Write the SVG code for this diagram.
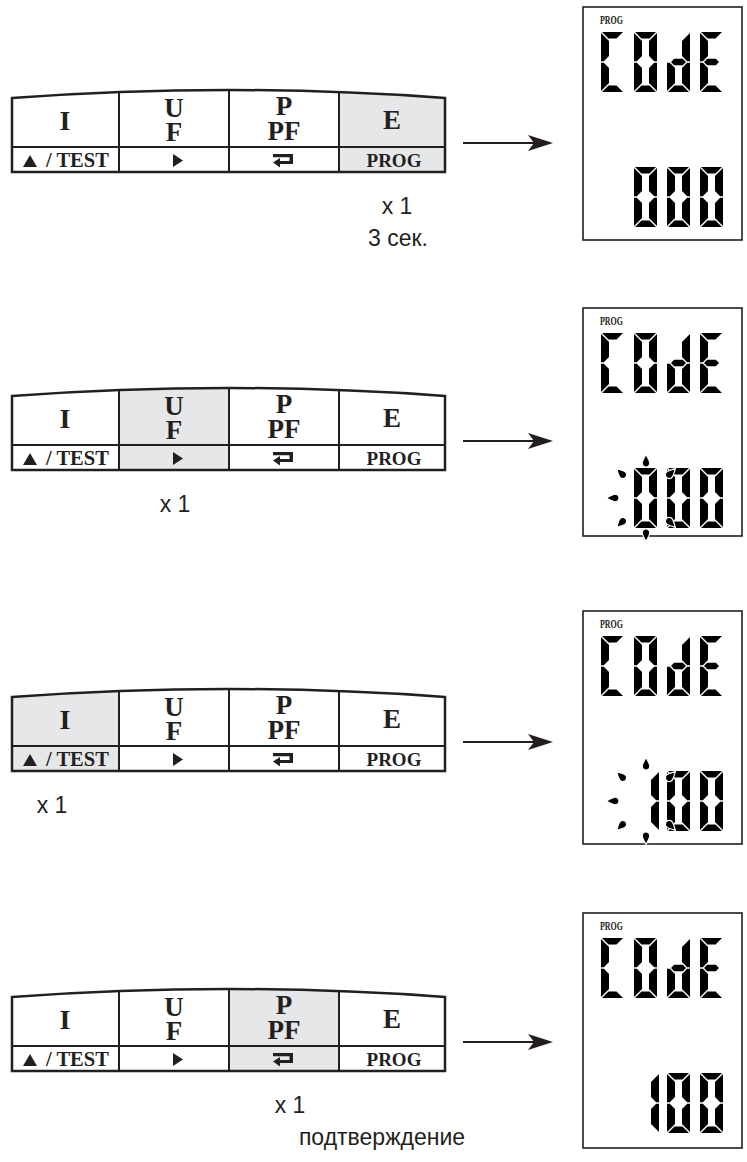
<svg xmlns="http://www.w3.org/2000/svg" xmlns:xlink="http://www.w3.org/1999/xlink" width="747" height="1162" viewBox="0 0 747 1162">
<style>
.ol{fill:none;stroke:#231f20;stroke-width:2.5}
.ln{fill:none;stroke:#231f20;stroke-width:2}
.ink{fill:#231f20}
.hl{fill:#e6e7e8}
.key{font-family:"Liberation Serif",serif;font-weight:bold;fill:#231f20;text-anchor:middle}
.big{font-size:27px}
.sm{font-size:19px}
.note{font-family:"Liberation Sans",Arial,sans-serif;font-size:23px;fill:#231f20;text-anchor:middle}
.disp{fill:#fff;stroke:#231f20;stroke-width:1.6}
.dl{font-family:"Liberation Serif",serif;font-weight:bold;font-size:11.5px;fill:#231f20}
.seg{fill:#000}
.ray{fill:#000;stroke:#fff;stroke-width:1.2}
</style>
<defs>
<clipPath id="pc" clipPathUnits="userSpaceOnUse"><path d="M12,98 Q228.5,82 445,98 L445,172 L12,172 Z"/></clipPath>
<marker id="ah" markerUnits="userSpaceOnUse" markerWidth="26" markerHeight="16" refX="12" refY="8" orient="auto"><path d="M0,0 L25,8 L0,16 L6,8 Z" fill="#231f20"/></marker>
<polygon id="sa" points="1,0 22,0 15.5,6.5 7.5,6.5"/>
<polygon id="sb" points="23,1 23,29.2 20.2,29.2 15,24 15,9"/>
<polygon id="sc" points="23,59 23,30.8 20.2,30.8 15,36 15,51"/>
<polygon id="sd" points="1,60 22,60 15.5,53.5 7.5,53.5"/>
<polygon id="se" points="0,59 0,30.8 2.8,30.8 8,36 8,51"/>
<polygon id="sf" points="0,1 0,29.2 2.8,29.2 8,24 8,9"/>
<polygon id="sg" points="4,30 7.2,26.8 15.8,26.8 19,30 15.8,33.2 7.2,33.2"/>
<g id="gC" class="seg"><use href="#sa"/><use href="#sd"/><use href="#se"/><use href="#sf"/></g>
<g id="g0" class="seg"><use href="#sa"/><use href="#sb"/><use href="#sc"/><use href="#sd"/><use href="#se"/><use href="#sf"/></g>
<g id="gd" class="seg"><use href="#sb"/><use href="#sc"/><use href="#sd"/><use href="#se"/><use href="#sg"/></g>
<g id="gE" class="seg"><use href="#sa"/><use href="#sd"/><use href="#se"/><use href="#sf"/><use href="#sg"/></g>
<g id="g1" class="seg"><use href="#sb"/><use href="#sc"/></g>
<path id="ray" d="M0,-12.5 C2,-9 3.8,-5.5 3.8,-3.8 A3.8,3.8 0 0 1 -3.8,-3.8 C-3.8,-5.5 -2,-9 0,-12.5 Z"/>
<g id="rays">
<use class="ray" href="#ray" transform="translate(0,-31)"/>
<use class="ray" href="#ray" transform="rotate(180) translate(0,-31)"/>
<use class="ray" href="#ray" transform="rotate(-90) translate(0,-27)"/>
<use class="ray" href="#ray" transform="rotate(-45) translate(0,-29)"/>
<use class="ray" href="#ray" transform="rotate(-135) translate(0,-29)"/>
<use class="ray" href="#ray" transform="rotate(45) translate(0,-29)"/>
<use class="ray" href="#ray" transform="rotate(135) translate(0,-29)"/>
</g>
<g id="code">
<text class="dl" x="600" y="17" textLength="23" lengthAdjust="spacingAndGlyphs">PROG</text>
<use href="#gC" x="601" y="25"/><use href="#g0" x="634" y="25"/><use href="#gd" x="667" y="25"/><use href="#gE" x="700" y="25"/>
</g>
<g id="panel">
<path class="ol" d="M12,98 Q228.5,82 445,98 L445,172 L12,172 Z"/>
<line class="ln" x1="12" y1="147" x2="445" y2="147"/>
<line class="ln" x1="119" y1="92" x2="119" y2="172"/>
<line class="ln" x1="229" y1="90" x2="229" y2="172"/>
<line class="ln" x1="339" y1="92" x2="339" y2="172"/>
<text class="key big" x="65" y="130" style="font-size:28px">I</text>
<text class="key big" x="174" y="117">U</text>
<text class="key big" x="174" y="141">F</text>
<text class="key big" x="284" y="115">P</text>
<text class="key big" x="284" y="140">PF</text>
<text class="key big" x="392" y="129">E</text>
<polygon class="ink" points="23,167 37,167 30,155"/>
<text class="key sm" x="46" y="167" style="text-anchor:start;font-size:20.5px">/ TEST</text>
<polygon class="ink" points="173,154 173,167 183,160.5"/>
<path class="ink" d="M273,154 H293 V164 H280 V161 H289.5 V157.3 H273 Z"/>
<polygon class="ink" points="273,162.5 280,158 280,167.5"/>
<text class="key sm" x="394" y="167">PROG</text>
</g>
</defs>

<g id="node-keys-1">
<rect class="hl" x="339" y="80" width="106" height="92" clip-path="url(#pc)"/>
<use href="#panel"/>
<text class="note" x="397" y="214">x 1</text>
<text class="note" x="398" y="246">3 сек.</text>
</g>

<g id="node-keys-2" transform="translate(0,298)">
<rect class="hl" x="119" y="80" width="110" height="92" clip-path="url(#pc)"/>
<use href="#panel"/>
<text class="note" x="175" y="214">x 1</text>
</g>

<g id="node-keys-3" transform="translate(0,599)">
<rect class="hl" x="12" y="80" width="107" height="92" clip-path="url(#pc)"/>
<use href="#panel"/>
<text class="note" x="52" y="214">x 1</text>
</g>

<g id="node-keys-4" transform="translate(0,899)">
<rect class="hl" x="229" y="80" width="110" height="92" clip-path="url(#pc)"/>
<use href="#panel"/>
<text class="note" x="290" y="214">x 1</text>
<text class="note" x="382" y="246">подтверждение</text>
</g>

<g id="node-display-1" transform="translate(0,7)">
<rect class="disp" x="583" y="0" width="159" height="233"/>
<use href="#code"/>
<use href="#g0" x="634" y="160"/><use href="#g0" x="667" y="160"/><use href="#g0" x="700" y="160"/>
</g>

<g id="node-display-2" transform="translate(0,308)">
<rect class="disp" x="583" y="0" width="159" height="228"/>
<use href="#code"/>
<use href="#g0" x="634" y="160"/><use href="#g0" x="667" y="160"/><use href="#g0" x="700" y="160"/>
<use href="#rays" transform="translate(646,190)"/>
</g>

<g id="node-display-3" transform="translate(0,611)">
<rect class="disp" x="583" y="0" width="159" height="233"/>
<use href="#code"/>
<use href="#g1" x="636" y="160"/><use href="#g0" x="667" y="160"/><use href="#g0" x="700" y="160"/>
<use href="#rays" transform="translate(646,190)"/>
</g>

<g id="node-display-4" transform="translate(0,913)">
<rect class="disp" x="583" y="0" width="159" height="235"/>
<use href="#code"/>
<use href="#g1" x="636" y="160"/><use href="#g0" x="667" y="160"/><use href="#g0" x="700" y="160"/>
</g>

<g id="connectors" stroke="#231f20" stroke-width="2" fill="none">
<line x1="463" y1="143" x2="540" y2="143" marker-end="url(#ah)"/>
<line x1="463" y1="441" x2="540" y2="441" marker-end="url(#ah)"/>
<line x1="463" y1="742" x2="540" y2="742" marker-end="url(#ah)"/>
<line x1="463" y1="1042" x2="540" y2="1042" marker-end="url(#ah)"/>
</g>
</svg>
